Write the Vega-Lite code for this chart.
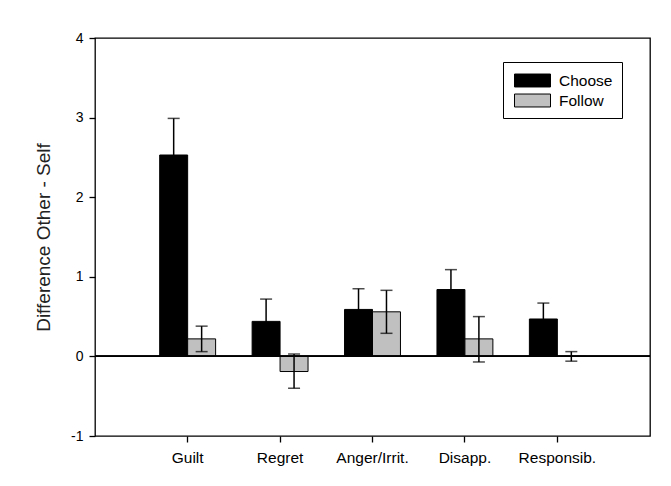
{
  "$schema": "https://vega.github.io/schema/vega-lite/v6.json",
  "width": 555,
  "height": 398,
  "autosize": "none",
  "padding": {"left": 95, "top": 38, "right": 21, "bottom": 50},
  "background": "white",
  "config": {
    "font": "Liberation Sans",
    "view": {"stroke": "black", "strokeWidth": 1.3},
    "axis": {"labelColor": "black", "titleColor": "#222", "tickColor": "black", "domain": false, "grid": false}
  },
  "data": {
    "values": [
      {"category": "Guilt", "group": "Choose", "value": 2.53, "lo": 2.07, "hi": 2.99},
      {"category": "Guilt", "group": "Follow", "value": 0.22, "lo": 0.06, "hi": 0.38},
      {"category": "Regret", "group": "Choose", "value": 0.44, "lo": 0.16, "hi": 0.72},
      {"category": "Regret", "group": "Follow", "value": -0.19, "lo": -0.40, "hi": 0.03},
      {"category": "Anger/Irrit.", "group": "Choose", "value": 0.59, "lo": 0.33, "hi": 0.85},
      {"category": "Anger/Irrit.", "group": "Follow", "value": 0.56, "lo": 0.29, "hi": 0.83},
      {"category": "Disapp.", "group": "Choose", "value": 0.84, "lo": 0.59, "hi": 1.09},
      {"category": "Disapp.", "group": "Follow", "value": 0.22, "lo": -0.07, "hi": 0.50},
      {"category": "Responsib.", "group": "Choose", "value": 0.47, "lo": 0.27, "hi": 0.67},
      {"category": "Responsib.", "group": "Follow", "value": 0.0, "lo": -0.06, "hi": 0.06}
    ]
  },
  "encoding": {
    "x": {
      "field": "category",
      "type": "nominal",
      "sort": ["Guilt", "Regret", "Anger/Irrit.", "Disapp.", "Responsib."],
      "scale": {"paddingInner": 0.395, "paddingOuter": 0.7},
      "axis": {"title": null, "labelAngle": 0, "tickSize": 6, "labelPadding": 8, "labelFontSize": 15.5, "tickWidth": 1.3}
    },
    "xOffset": {"field": "group", "type": "nominal", "scale": {"paddingInner": 0, "paddingOuter": 0}}
  },
  "layer": [
    {
      "mark": {"type": "bar", "stroke": "black", "strokeWidth": 1, "opacity": 1},
      "encoding": {
        "y": {
          "field": "value",
          "type": "quantitative",
          "scale": {"domain": [-1, 4], "nice": false},
          "axis": {
            "title": "Difference Other - Self",
            "values": [-1, 0, 1, 2, 3, 4],
            "labelExpr": "'' + datum.value",
            "tickSize": 6,
            "tickWidth": 1.3,
            "labelPadding": 6,
            "labelFontSize": 14,
            "titleFontSize": 19,
            "titleFontWeight": "normal",
            "titlePadding": 17
          }
        },
        "fill": {
          "field": "group",
          "type": "nominal",
          "scale": {"domain": ["Choose", "Follow"], "range": ["#000000", "#c0c0c0"]},
          "legend": {
            "title": null,
            "orient": "none",
            "legendX": 408,
            "legendY": 24,
            "strokeColor": "black",
            "fillColor": "white",
            "padding": 9,
            "symbolType": "M-2,-0.72H2V0.72H-2Z",
            "symbolSize": 324,
            "symbolOffset": 11,
            "symbolStrokeColor": "black",
            "symbolStrokeWidth": 1,
            "symbolOpacity": 1,
            "labelFontSize": 15.5,
            "labelColor": "black",
            "labelOffset": 17,
            "rowPadding": 2
          }
        }
      }
    },
    {
      "mark": {"type": "rule", "color": "black", "strokeWidth": 1.2},
      "encoding": {"y": {"datum": 0, "type": "quantitative"}, "x": null, "xOffset": null}
    },
    {
      "mark": {"type": "rule", "color": "black", "strokeWidth": 1.5},
      "encoding": {
        "y": {"field": "lo", "type": "quantitative"},
        "y2": {"field": "hi"}
      }
    },
    {
      "mark": {"type": "tick", "color": "black", "size": 12, "thickness": 1.5, "orient": "horizontal"},
      "encoding": {"y": {"field": "hi", "type": "quantitative"}}
    },
    {
      "mark": {"type": "tick", "color": "black", "size": 12, "thickness": 1.5, "orient": "horizontal"},
      "encoding": {"y": {"field": "lo", "type": "quantitative"}}
    }
  ]
}
